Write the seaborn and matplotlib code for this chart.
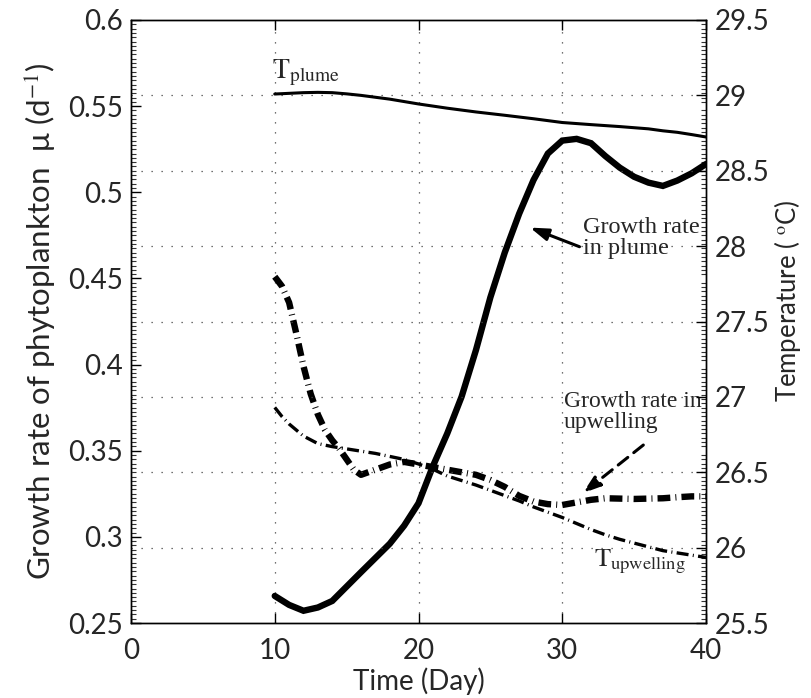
import matplotlib
matplotlib.use("Agg")
import matplotlib.pyplot as plt
import seaborn as sns
import numpy as np
import pandas as pd
from matplotlib.ticker import MultipleLocator

# ---------------- data ----------------
day_gp = [10, 11, 12, 13, 14, 16, 18, 19, 20, 21, 22, 23, 24, 25, 26, 27, 28, 29, 30,
          31, 32, 33, 34, 35, 36, 37, 38, 39, 40]
growth_plume = [0.2657, 0.2605, 0.2571, 0.2590, 0.2628, 0.2795, 0.2960, 0.3065, 0.3195,
                0.3410, 0.3600, 0.3814, 0.4085, 0.4390, 0.4650, 0.4875, 0.5071, 0.5225,
                0.5300, 0.5310, 0.5285, 0.5210, 0.5143, 0.5090, 0.5056, 0.5037, 0.5068,
                0.5110, 0.5164]

day_gu = [10, 10.5, 11, 11.5, 12, 12.5, 13, 13.5, 14, 14.5, 15, 15.5, 16, 17, 18, 19, 20,
          21, 22, 23, 24, 25, 26, 27, 28, 29, 30, 31, 32, 33, 34, 35, 36, 37, 38, 39, 40]
growth_upw = [0.451, 0.4455, 0.436, 0.418, 0.399, 0.383, 0.371, 0.362, 0.356, 0.351,
              0.345, 0.339, 0.336, 0.339, 0.342, 0.3435, 0.342, 0.3405, 0.339, 0.3375,
              0.336, 0.333, 0.329, 0.3238, 0.3205, 0.319, 0.3185, 0.320, 0.3215, 0.3224,
              0.3222, 0.322, 0.3222, 0.3224, 0.323, 0.3235, 0.3235]

day_tp = [10, 12, 13, 14, 15, 16, 18, 20, 22, 24, 26, 28, 30, 32, 34, 36, 37, 38, 39, 40]
temp_plume = [29.009, 29.018, 29.020, 29.018, 29.010, 29.000, 28.975, 28.943, 28.915,
              28.890, 28.868, 28.845, 28.820, 28.806, 28.793, 28.778, 28.765, 28.755,
              28.740, 28.724]

day_tu = [10, 10.5, 11, 12, 13, 14, 15, 16, 17, 18, 19, 20, 21, 22, 23, 24, 25, 26, 27,
          28, 29, 30, 31, 32, 33, 34, 35, 36, 37, 38, 39, 40]
temp_upw = [26.93, 26.87, 26.82, 26.74, 26.69, 26.67, 26.655, 26.64, 26.625, 26.605,
            26.585, 26.555, 26.52, 26.475, 26.445, 26.415, 26.38, 26.345, 26.31, 26.27,
            26.235, 26.20, 26.16, 26.12, 26.085, 26.055, 26.03, 26.005, 25.98, 25.965,
            25.95, 25.935]

x_ticks = [0, 10, 20, 30, 40]
left_ticks = [0.25, 0.3, 0.35, 0.4, 0.45, 0.5, 0.55, 0.6]
right_ticks = [25.5, 26, 26.5, 27, 27.5, 28, 28.5, 29, 29.5]

# ---------------- style ----------------
sns.set_theme(style="ticks")
plt.rcParams["font.family"] = ["Lato", "DejaVu Sans"]
plt.rcParams["mathtext.fontset"] = "stix"
plt.rcParams["xtick.direction"] = "in"
plt.rcParams["ytick.direction"] = "in"

fig = plt.figure(figsize=(8.11, 6.98), dpi=100)
ax1 = fig.add_axes([131 / 811, 1 - 623 / 698, (706 - 131) / 811, (623 - 20) / 698])
ax2 = ax1.twinx()

# ---------------- lines ----------------
sns.lineplot(x=day_gp, y=growth_plume, ax=ax1, color="black", lw=4.6,
             solid_joinstyle="miter")
sns.lineplot(x=day_gu, y=growth_upw, ax=ax1, color="black", lw=4.6,
             linestyle=(0, (2.0, 0.8, 0.15, 0.8)), dash_capstyle="butt")
sns.lineplot(x=day_tp, y=temp_plume, ax=ax2, color="black", lw=2.2)
sns.lineplot(x=day_tu, y=temp_upw, ax=ax2, color="black", lw=2.4,
             linestyle=(0, (3.6, 1.3, 0.3, 1.3)), dash_capstyle="butt")

# ---------------- axes ----------------
ax1.set_xlim(0, 40)
ax1.set_ylim(0.25, 0.6)
ax2.set_ylim(25.5, 29.5)
ax1.set_xticks(x_ticks)
ax1.set_xticklabels([str(t) for t in x_ticks])
ax1.set_yticks(left_ticks)
ax1.set_yticklabels([f"{t:g}" for t in left_ticks])
ax2.set_yticks(right_ticks)
ax2.set_yticklabels([f"{t:g}" for t in right_ticks])
ax1.yaxis.set_minor_locator(MultipleLocator(0.0025))

for ax in (ax1, ax2):
    for s in ax.spines.values():
        s.set_visible(True)
        s.set_color("black")
        s.set_linewidth(1.0)

ax1.tick_params(axis="both", which="major", labelsize=20, length=7, width=1.0,
                color="black")
ax1.tick_params(axis="x", which="major", pad=11, bottom=True, top=True)
ax1.tick_params(axis="y", which="major", pad=6, left=True)
ax1.tick_params(axis="y", which="minor", length=3.5, width=0.8, color="#333333",
                left=True, right=True)
ax2.tick_params(axis="y", which="major", labelsize=20, length=7, width=1.0,
                color="black", pad=6, right=True)

# grids
for xv in [10, 20, 30]:
    ax1.axvline(xv, color="#444444", lw=0.9, linestyle=(0, (1, 7)), zorder=0)
for yv in [26, 26.5, 27, 27.5, 28, 28.5, 29]:
    ax2.axhline(yv, color="#444444", lw=0.9, linestyle=(0, (1, 7)), zorder=0)

ax1.set_xlabel("Time (Day)", fontsize=20, labelpad=2)
ax1.set_ylabel("Growth rate of phytoplankton  \u03bc (d$^{-1}$)", fontsize=22.5, labelpad=6)
ax2.set_ylabel("Temperature ( $^{\\mathrm{o}}$C)", fontsize=18.5)
ax2.yaxis.set_label_coords(1.115, 0.535)

# ---------------- annotations ----------------
ax2.text(9.8, 29.15, r"$\mathrm{T_{plume}}$", fontsize=20, va="center", ha="left")
ax2.text(32.2, 25.905, r"$\mathrm{T_{upwelling}}$", fontsize=19, va="center", ha="left")

ax1.text(31.45, 0.4855, "Growth rate\nin plume", fontsize=17.5, family="Liberation Serif",
         va="top", ha="left", linespacing=1.0)
ax1.text(30.1, 0.3845, "Growth rate in\nupwelling", fontsize=17, family="Liberation Serif",
         va="top", ha="left", linespacing=1.0)

ax1.annotate("", xy=(27.76, 0.4795), xytext=(31.2, 0.4684),
             arrowprops=dict(arrowstyle="-|>,head_length=0.9,head_width=0.3",
                             color="black", lw=2.2, shrinkA=0, shrinkB=0))
ax1.annotate("", xy=(31.42, 0.3253), xytext=(35.64, 0.3533),
             arrowprops=dict(arrowstyle="-|>,head_length=0.9,head_width=0.3",
                             color="black", lw=2.2, linestyle=(0, (4, 2.5)),
                             shrinkA=0, shrinkB=0))

fig.savefig("out.png", dpi=100)
